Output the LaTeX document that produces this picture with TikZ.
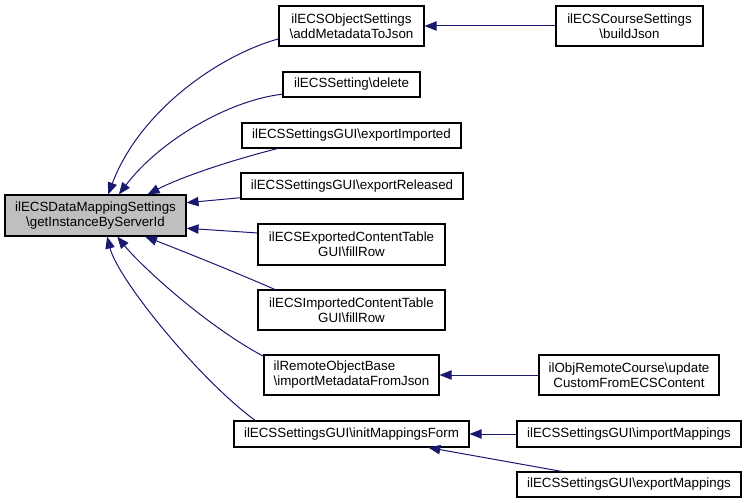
\documentclass[tikz,border=0pt]{standalone}
\usepackage{fontspec}
\setmainfont{Liberation Sans}
\usetikzlibrary{arrows.meta}
\definecolor{edgeblue}{RGB}{25,25,112}
\definecolor{maingray}{RGB}{191,191,191}
\tikzset{
  fn/.style={draw, rectangle, line width=0.8pt, inner sep=0pt, align=center,
    font=\fontsize{10}{11.25}\selectfont},
  size/.style 2 args={minimum width=#1*0.75pt, minimum height=#2*0.75pt},
  call/.style={draw=edgeblue, line width=0.75pt, -{Triangle[length=9pt,width=7pt]}}
}
\newcommand{\bs}{\textbackslash}

\begin{document}
\begin{tikzpicture}[x=0.75pt, y=-0.75pt]
\useasboundingbox (0,0) rectangle (747,503);
\begin{scope}[every node/.style={fn}]
  \node[size={181}{41}, fill=maingray] (main) at (95.5,215.5) {ilECSDataMappingSettings\\\bs getInstanceByServerId};
  \node[size={145}{40}] (n1) at (351.5,26) {ilECSObjectSettings\\\bs addMetadataToJson};
  \node[size={137}{25}] (n2) at (351.5,84.5) {ilECSSetting\bs delete};
  \node[size={219}{25}] (n3) at (351.5,135.5) {ilECSSettingsGUI\bs exportImported};
  \node[size={222}{26}] (n4) at (352,186) {ilECSSettingsGUI\bs exportReleased};
  \node[size={187}{41}] (n5) at (351.5,244.5) {ilECSExportedContentTable\\GUI\bs fillRow};
  \node[size={187}{40}] (n6) at (351.5,310) {ilECSImportedContentTable\\GUI\bs fillRow};
  \node[size={175}{40}, align=left] (n7) at (351.5,375) {ilRemoteObjectBase\\\bs importMetadataFromJson};
  \node[size={235}{26}] (n8) at (351.5,434) {ilECSSettingsGUI\bs initMappingsForm};
  \node[size={147}{40}] (r1) at (629.5,26) {ilECSCourseSettings\\\bs buildJson};
  \node[size={180}{40}] (r2) at (629,375) {ilObjRemoteCourse\bs update\\CustomFromECSContent};
  \node[size={224}{26}] (r3) at (629,434) {ilECSSettingsGUI\bs importMappings};
  \node[size={224}{25}] (r4) at (629,484.5) {ilECSSettingsGUI\bs exportMappings};
\end{scope}
\draw[call] (n1.190) .. controls (220,55) and (140,110) .. (main.59);
\draw[call] (n2.188) .. controls (230,100) and (160,140) .. (main.42);
\draw[call] (n3.190) .. controls (240,158) and (185,175) .. (main.22);
\draw[call] (n4.186) -- (main.8);
\draw[call] (n5.173) -- (main.-8);
\draw[call] (n6.165) .. controls (235,272) and (180,250) .. (main.-23);
\draw[call] (n7.168) .. controls (205,325) and (140,265) .. (main.-44);
\draw[call] (n8.172) .. controls (200,380) and (118,280) .. (main.-61);
\draw[call] (r1.west) -- (n1.east);
\draw[call] (r2.west) -- (n7.east);
\draw[call] (r3.west) -- (n8.east);
\draw[call] (r4.169) -- (n8.-10);
\end{tikzpicture}
\end{document}
